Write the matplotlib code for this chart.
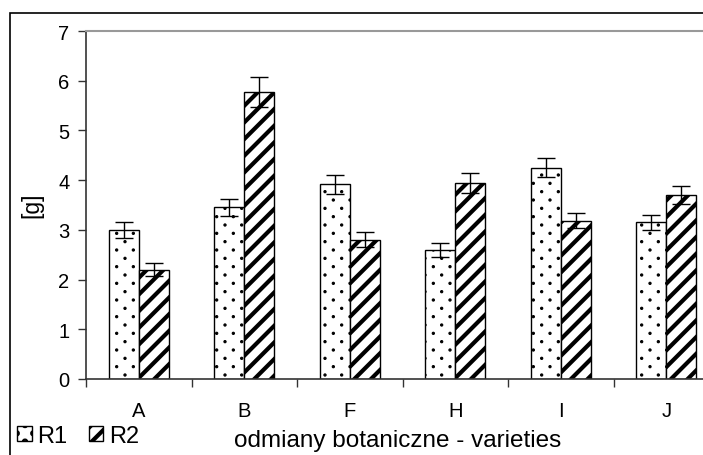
import numpy as np
import matplotlib
matplotlib.use('Agg')
import matplotlib.pyplot as plt
from matplotlib import hatch as mhatch
from matplotlib.path import Path
from matplotlib.patches import Rectangle

plt.rcParams['font.family'] = ['Liberation Sans', 'DejaVu Sans']

# data
varieties = ['A', 'B', 'F', 'H', 'I', 'J']
r1 = [3.0, 3.45, 3.92, 2.6, 4.25, 3.15]
r1_err = [0.16, 0.17, 0.19, 0.14, 0.19, 0.15]
r2 = [2.2, 5.78, 2.8, 3.95, 3.18, 3.7]
r2_err = [0.13, 0.3, 0.15, 0.2, 0.15, 0.18]


# sparse dot hatch (Excel "10%" look): rows close together, dots far apart
class RowDots(mhatch.HatchPatternBase):
    def __init__(self, hatch, density):
        n = hatch.count(':')
        self.rows = n * density * 2
        self.cols = n * density
        self.circle = Path.unit_circle()
        if self.rows == 0:
            self.num_vertices = 0
        else:
            n_dots = (self.rows // 2 + 1) * (self.cols + 1) + (self.rows // 2) * self.cols
            self.num_vertices = n_dots * len(self.circle.vertices)

    def set_vertices_and_codes(self, vertices, codes):
        shape = self.circle.vertices * 0.011
        vparts, cparts = [], []
        for row in range(self.rows + 1):
            if row % 2 == 0:
                cols = np.linspace(0, 1, self.cols + 1)
            else:
                cols = (np.arange(self.cols) + 0.5) / self.cols
            for c in cols:
                vparts.append(shape + [c, row / self.rows])
                cparts.append(self.circle.codes)
        np.concatenate(vparts, out=vertices)
        np.concatenate(cparts, out=codes)


mhatch._hatch_types.append(RowDots)

fig = plt.figure(figsize=(7.03, 4.56), dpi=100)
# plot area runs past the right edge of the picture
ax = fig.add_axes([86 / 703, 76 / 456, 633 / 703, 348 / 456])

x = np.arange(len(varieties))
w = 0.285

plt.rcParams['hatch.linewidth'] = 0.8
b1 = ax.bar(x - w / 2, r1, w, color='white', edgecolor='black', linewidth=1,
            hatch=':', label='R1')
plt.rcParams['hatch.linewidth'] = 3.0
b2 = ax.bar(x + w / 2, r2, w, color='white', edgecolor='black', linewidth=1,
            hatch='//', label='R2')

ax.errorbar(x - w / 2, r1, yerr=r1_err, fmt='none', ecolor='black',
            elinewidth=1, capsize=6.5, capthick=1)
ax.errorbar(x + w / 2, r2, yerr=r2_err, fmt='none', ecolor='black',
            elinewidth=1, capsize=6.5, capthick=1)

ax.set_xlim(-0.5, len(varieties) - 0.5)
ax.set_ylim(0, 7)
ax.set_yticks(range(8))
ax.set_xticks(x)
ax.set_xticklabels(varieties)
ax.set_xticks(np.arange(-0.5, len(varieties)), minor=True)
ax.tick_params(axis='x', which='major', length=0, pad=16, labelsize=14.5)
ax.tick_params(axis='x', which='minor', length=6, width=1, color='#333333',
               direction='out')
ax.tick_params(axis='y', length=6, width=1, color='#333333', labelsize=14.5,
               pad=6)

for s in ['left', 'bottom']:
    ax.spines[s].set_color('#333333')
    ax.spines[s].set_linewidth(1.2)
ax.spines['top'].set_color('#999999')
ax.spines['top'].set_linewidth(1.5)
ax.spines['right'].set_visible(False)

fig.text(32 / 703, 1 - 205 / 456, '[g]', rotation=90, fontsize=16.5,
         ha='center', va='center')
fig.text(398 / 703, 1 - 441 / 456, 'odmiany botaniczne - varieties',
         fontsize=17.5, ha='center', va='center')

fig.legend(handles=[b1, b2], loc='lower left', bbox_to_anchor=(8 / 703, -1 / 456),
           ncol=2, frameon=False, fontsize=17, handlelength=0.6,
           handleheight=0.6, handletextpad=0.25, columnspacing=0.9,
           borderaxespad=0)

# outer chart border
fig.patches.append(Rectangle((10 / 703, -0.1), 1.1, 1 - 14 / 456 + 0.1,
                             transform=fig.transFigure, fill=False,
                             edgecolor='black', linewidth=1.2))

fig.savefig('out.png', dpi=100)
